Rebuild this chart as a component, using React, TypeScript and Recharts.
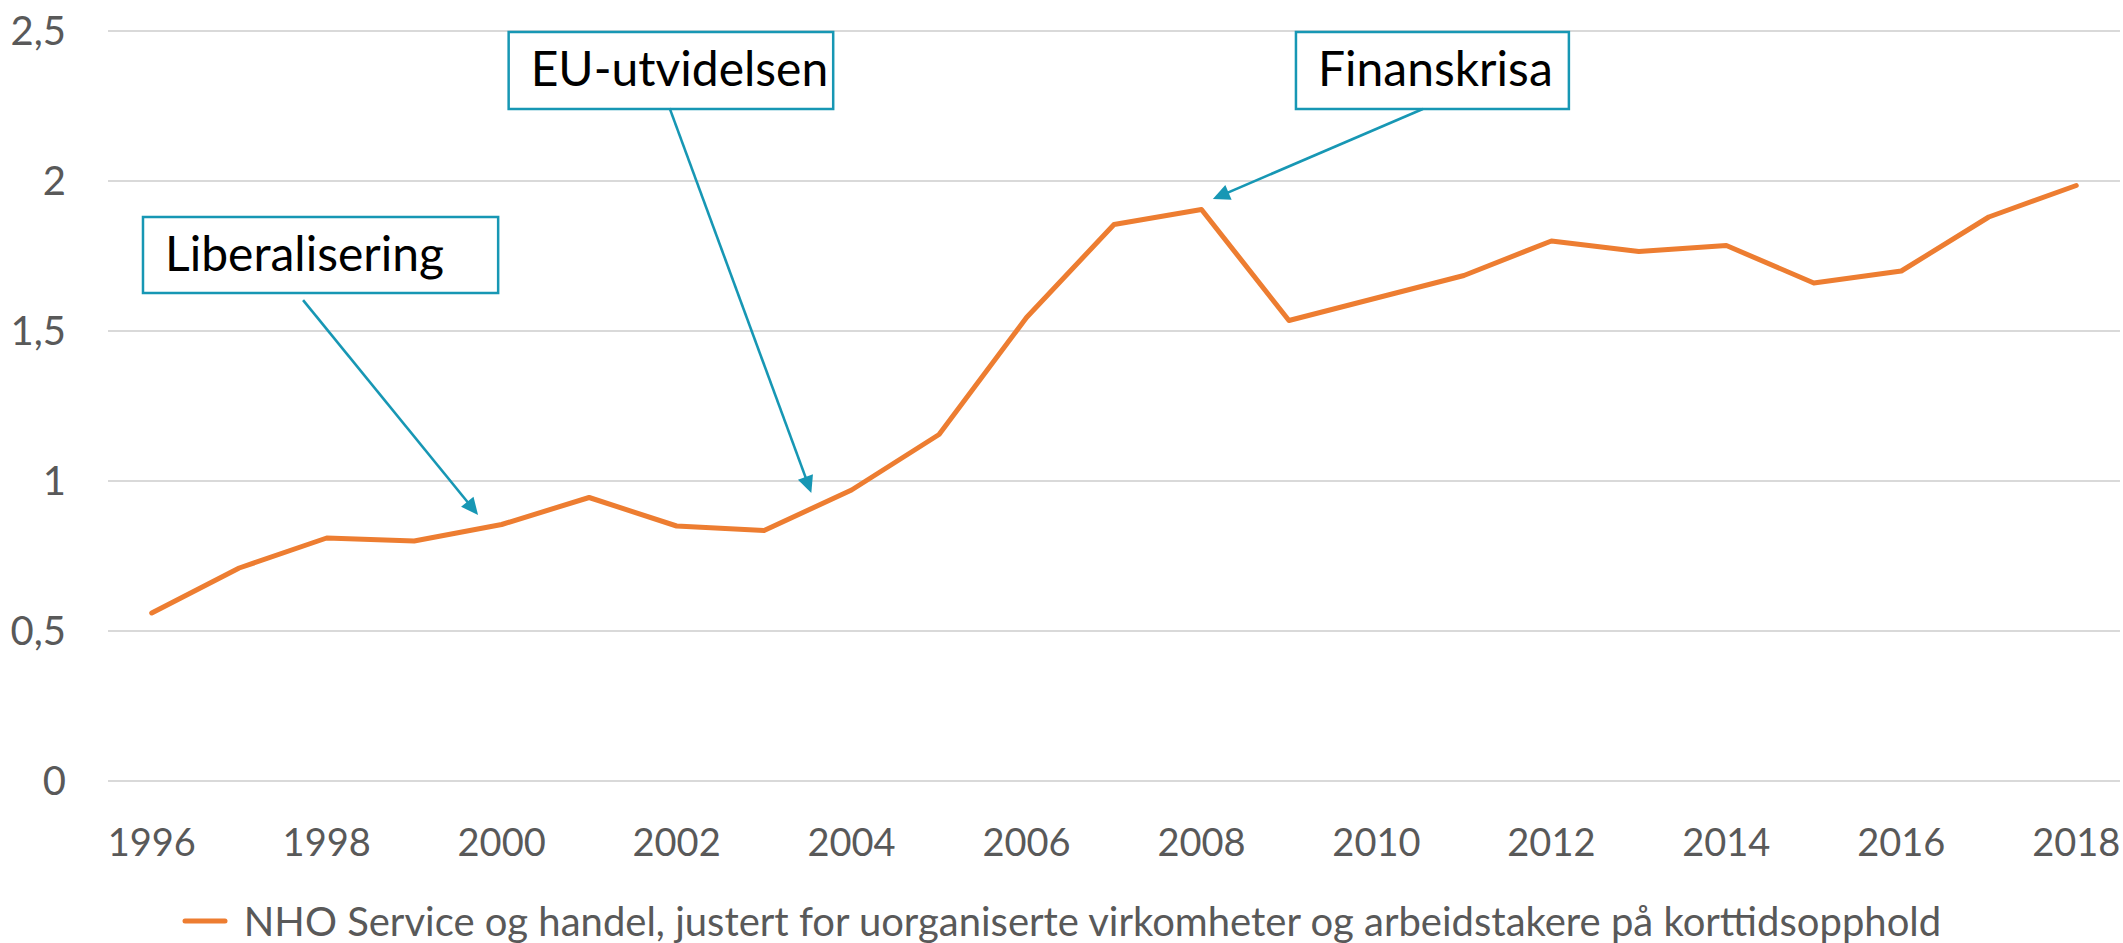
import React from "react";
import {
  LineChart,
  Line,
  XAxis,
  YAxis,
  CartesianGrid,
  Legend,
  ReferenceArea,
  ReferenceLine,
} from "recharts";

const years = [1996, 1997, 1998, 1999, 2000, 2001, 2002, 2003, 2004, 2005, 2006, 2007, 2008, 2009, 2010, 2011, 2012, 2013, 2014, 2015, 2016, 2017, 2018];
const values = [0.56, 0.71, 0.81, 0.8, 0.855, 0.945, 0.85, 0.835, 0.97, 1.155, 1.545, 1.855, 1.905, 1.535, 1.61, 1.685, 1.8, 1.765, 1.785, 1.66, 1.7, 1.88, 1.985];
const xTicks = [1996, 1998, 2000, 2002, 2004, 2006, 2008, 2010, 2012, 2014, 2016, 2018];
const yTicks = [0, 0.5, 1, 1.5, 2, 2.5];
const seriesName = "NHO Service og handel, justert for uorganiserte virkomheter og arbeidstakere på korttidsopphold";

// annotation boxes and arrows in data coordinates (year, value)
const annLabels = ["Liberalisering", "EU-utvidelsen", "Finanskrisa"];
const annBoxX1 = [1995.9, 2000.08, 2009.08];
const annBoxX2 = [1999.96, 2003.79, 2012.2];
const annBoxYTop = [1.88, 2.497, 2.497];
const annBoxYBottom = [1.627, 2.24, 2.24];
const arrowFromX = [1997.73, 2001.92, 2010.53];
const arrowFromY = [1.603, 2.243, 2.24];
const arrowToX = [1999.73, 2003.54, 2008.13];
const arrowToY = [0.887, 0.96, 1.94];

const data = years.map((y, i) => ({ year: y, value: values[i] }));

const FONT = "Lato, 'Noto Sans', sans-serif";
const TEAL = "#1797b4";
const ORANGE = "#ED7D31";
const GRAY = "#595959";

const fmt = (v: number) => String(v).replace(".", ",");

const ArrowShape = (props: any) => {
  const { x1, y1, x2, y2 } = props;
  if ([x1, y1, x2, y2].some((v) => v === undefined || Number.isNaN(v))) return null;
  const dx = x2 - x1;
  const dy = y2 - y1;
  const len = Math.sqrt(dx * dx + dy * dy);
  const ux = dx / len;
  const uy = dy / len;
  const hl = 17;
  const hw = 8;
  const bx = x2 - ux * hl;
  const by = y2 - uy * hl;
  const px = -uy;
  const py = ux;
  return (
    <g>
      <line x1={x1} y1={y1} x2={bx + ux * 2} y2={by + uy * 2} stroke={TEAL} strokeWidth={2.6} />
      <polygon
        points={`${x2},${y2} ${bx + px * hw},${by + py * hw} ${bx - px * hw},${by - py * hw}`}
        fill={TEAL}
      />
    </g>
  );
};

const makeBoxLabel = (text: string) => (props: any) => {
  const vb = props.viewBox || {};
  return (
    <text
      x={vb.x + 22}
      y={vb.y + 54}
      fontFamily={FONT}
      fontSize={48}
      fill="#000000"
    >
      {text}
    </text>
  );
};

const LegendContent = () => (
  <div
    style={{
      display: "flex",
      justifyContent: "center",
      alignItems: "center",
      height: 50,
      fontFamily: FONT,
      fontSize: 40,
      color: GRAY,
      whiteSpace: "nowrap",
    }}
  >
    <svg width={46} height={10} style={{ display: "block" }}>
      <line x1={3} y1={5} x2={43} y2={5} stroke={ORANGE} strokeWidth={5} strokeLinecap="round" />
    </svg>
    <span style={{ marginLeft: 16 }}>{seriesName}</span>
  </div>
);

export default function App() {
  return (
    <div style={{ position: "absolute", left: 0, top: 0, width: 2123, height: 943, background: "#fff" }}>
      <LineChart
        width={2123}
        height={943}
        data={data}
        margin={{ top: 31, right: 3, left: 0, bottom: 52 }}
      >
        <CartesianGrid vertical={false} stroke="#d9d9d9" strokeWidth={2} />
        <XAxis
          dataKey="year"
          type="number"
          domain={[1995.5, 2018.5]}
          ticks={xTicks}
          axisLine={false}
          tickLine={false}
          tickSize={0}
          tickMargin={48}
          height={60}
          interval={0}
          tick={{ fill: GRAY, fontSize: 38, fontFamily: FONT }}
        />
        <YAxis
          domain={[0, 2.5]}
          ticks={yTicks}
          tickFormatter={fmt}
          axisLine={false}
          tickLine={false}
          tickSize={0}
          tickMargin={42}
          width={108}
          interval={0}
          tick={{ fill: GRAY, fontSize: 40, fontFamily: FONT }}
        />
        {annLabels.map((t, i) => (
          <ReferenceArea
            key={"box" + i}
            x1={annBoxX1[i]}
            x2={annBoxX2[i]}
            y1={annBoxYBottom[i]}
            y2={annBoxYTop[i]}
            fill="#ffffff"
            fillOpacity={1}
            stroke={TEAL}
            strokeWidth={2.5}
            ifOverflow="visible"
            label={makeBoxLabel(t)}
          />
        ))}
        {annLabels.map((t, i) => (
          <ReferenceLine
            key={"arrow" + i}
            segment={[
              { x: arrowFromX[i], y: arrowFromY[i] },
              { x: arrowToX[i], y: arrowToY[i] },
            ]}
            ifOverflow="visible"
            shape={ArrowShape}
          />
        ))}
        <Line
          type="linear"
          dataKey="value"
          name={seriesName}
          stroke={ORANGE}
          strokeWidth={5}
          strokeLinecap="round"
          strokeLinejoin="round"
          dot={false}
          activeDot={false}
          isAnimationActive={false}
        />
        <Legend
          verticalAlign="bottom"
          height={70}
          content={LegendContent}
          wrapperStyle={{ top: 896, bottom: "auto", left: 0, width: 2123, height: 50 }}
        />
      </LineChart>
    </div>
  );
}
